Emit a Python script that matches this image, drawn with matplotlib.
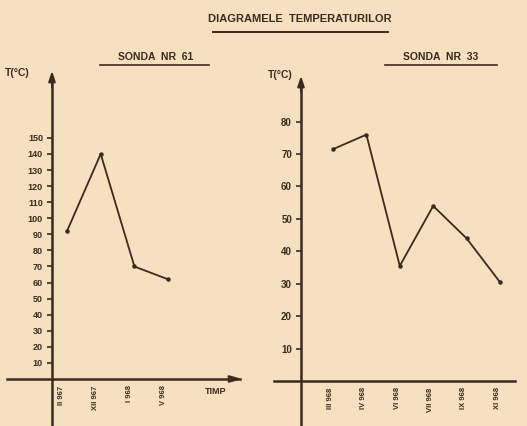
import matplotlib
matplotlib.use("Agg")
import matplotlib.pyplot as plt
from matplotlib.lines import Line2D

plt.rcParams['font.family'] = ['Liberation Sans Narrow', 'Liberation Sans', 'DejaVu Sans']

title = "DIAGRAMELE  TEMPERATURILOR"
left_title = "SONDA  NR  61"
right_title = "SONDA  NR  33"

left_dates = ["II 967", "XII 967", "I 968", "V 968"]
left_temps = [92, 140, 70, 62]
left_yticks = [10, 20, 30, 40, 50, 60, 70, 80, 90, 100, 110, 120, 130, 140, 150]

right_dates = ["III 968", "IV 968", "VI 968", "VII 968", "IX 968", "XI 968"]
right_temps = [71.5, 76, 35.5, 54, 44, 30.5]
right_yticks = [10, 20, 30, 40, 50, 60, 70, 80]

BG = "#f6e0c0"
INK = "#3b2a1e"
W, H = 527, 426

fig = plt.figure(figsize=(W / 100, H / 100), dpi=100, facecolor=BG)


def px_axes(x0, y_top, x1, y_bot):
    return fig.add_axes([x0 / W, 1 - y_bot / H, (x1 - x0) / W, (y_bot - y_top) / H])


def draw_chart(ax, temps, dates, yticks, xlim, ylim, x_left_ext, y_bot_ext, right_arrow, label_off, fs):
    ax.set_facecolor("none")
    for s in ax.spines.values():
        s.set_visible(False)
    ax.set_xlim(*xlim)
    ax.set_ylim(*ylim)
    xs = list(range(len(temps)))
    ax.plot(xs, temps, color=INK, lw=1.3, clip_on=False)
    ax.plot(xs, temps, 'o', color=INK, ms=2.2, clip_on=False)
    ax.plot([xlim[0], xlim[0]], [y_bot_ext, ylim[1] * 0.97], color=INK, lw=1.8, clip_on=False)
    ax.annotate("", xy=(xlim[0], ylim[1]), xytext=(xlim[0], ylim[1] * 0.93),
                arrowprops=dict(arrowstyle="-|>,head_length=0.6,head_width=0.2", color=INK, lw=1.5),
                annotation_clip=False)
    ax.plot([x_left_ext, xlim[1] * (0.97 if right_arrow else 1.0)], [0, 0], color=INK, lw=1.8, clip_on=False)
    if right_arrow:
        ax.annotate("", xy=(xlim[1], 0), xytext=(xlim[1] - 0.4, 0),
                    arrowprops=dict(arrowstyle="-|>,head_length=0.7,head_width=0.2", color=INK, lw=1.5),
                    annotation_clip=False)
    ax.set_yticks(yticks)
    ax.set_yticklabels([str(t) for t in yticks], fontsize=fs, fontweight='bold', color=INK)
    ax.tick_params(axis='y', direction='out', length=3.5, width=1.2, color=INK, pad=3)
    ax.set_xticks([])
    for i, d in enumerate(dates):
        ax.text(i + label_off, -4 * (ylim[1] / 193.5), d, rotation=90, ha='center', va='top',
                fontsize=5.5, fontweight='bold', color=INK, clip_on=False)


ax1 = px_axes(52, 68, 245, 379)
draw_chart(ax1, left_temps, left_dates, left_yticks,
           xlim=(-0.445, 5.28), ylim=(0, 193.5),
           x_left_ext=-1.78, y_bot_ext=-30, right_arrow=True, label_off=-0.15, fs=6.5)

ax2 = px_axes(301, 73, 515, 381)
draw_chart(ax2, right_temps, right_dates, right_yticks,
           xlim=(-0.958, 5.45), ylim=(0, 95),
           x_left_ext=-1.77, y_bot_ext=-14, right_arrow=False, label_off=-0.08, fs=7)

fig.text(300 / W, 1 - 19 / H, title, ha='center', va='center', fontsize=8,
         fontweight='bold', color=INK)
fig.add_artist(Line2D([213 / W, 388 / W], [1 - 32 / H, 1 - 32 / H], color=INK, lw=1.4))

fig.text(156 / W, 1 - 57 / H, left_title, ha='center', va='center', fontsize=7.5,
         fontweight='bold', color=INK)
fig.add_artist(Line2D([100 / W, 209 / W], [1 - 65 / H, 1 - 65 / H], color=INK, lw=1.2))

fig.text(441 / W, 1 - 57 / H, right_title, ha='center', va='center', fontsize=7.5,
         fontweight='bold', color=INK)
fig.add_artist(Line2D([385 / W, 497 / W], [1 - 65 / H, 1 - 65 / H], color=INK, lw=1.2))

fig.text(5 / W, 1 - 73 / H, "T(°C)", ha='left', va='center', fontsize=7.5,
         fontweight='bold', color=INK)
fig.text(268 / W, 1 - 75 / H, "T(°C)", ha='left', va='center', fontsize=7.5,
         fontweight='bold', color=INK)
fig.text(205 / W, 1 - 392 / H, "TIMP", ha='left', va='center', fontsize=6.5,
         fontweight='bold', color=INK)

fig.savefig("out.png", dpi=100, facecolor=BG)
